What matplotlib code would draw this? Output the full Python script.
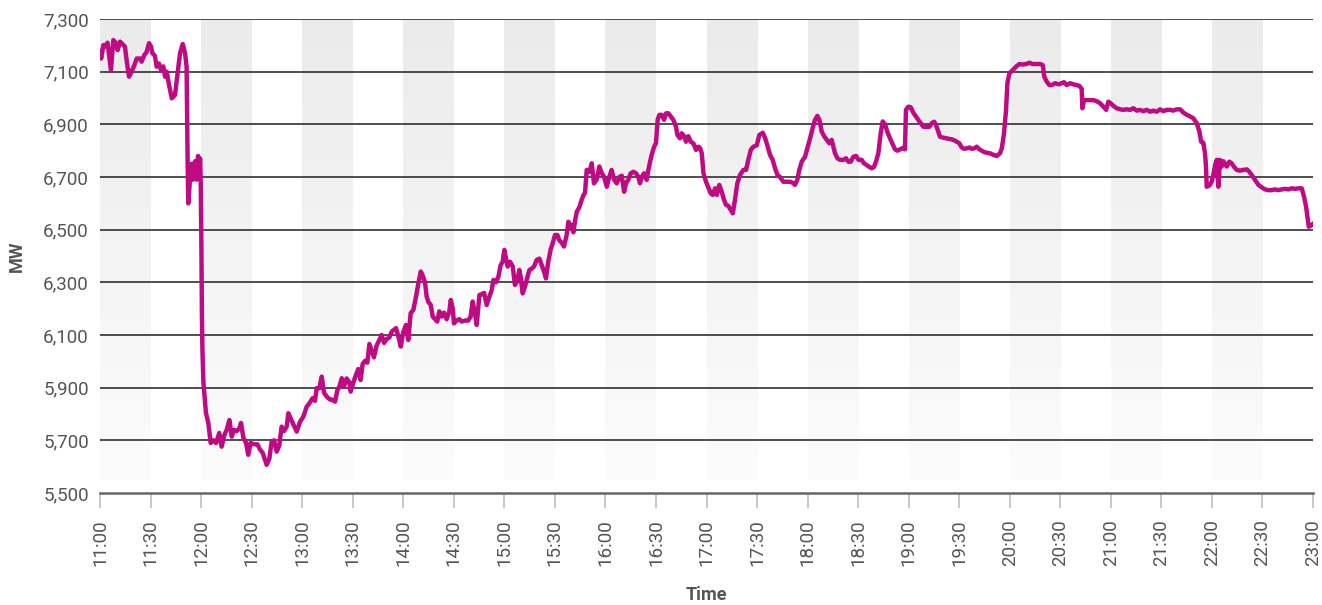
import numpy as np
import matplotlib
matplotlib.use("Agg")
import matplotlib.pyplot as plt
from matplotlib.colors import LinearSegmentedColormap

# minutes after 11:00 and load in MW
minutes = [0, 0.7, 2, 3, 4.5, 6.5, 7.9, 9.3, 10.5, 11.9, 13.3, 14.8, 15.8, 17.2, 18.8,
           20.4, 21.8, 23.7, 24.7, 26.3, 27.7, 29.1, 30.3, 31.1, 32.6, 33.6, 35, 36.2,
           37.6, 38.6, 39.6, 41, 42.6, 44.5, 46.1, 47.5, 49.1, 50.5, 51.4, 51.7, 52,
           52.4, 53.4, 54.4, 55.2, 56.4, 57.4, 58.2, 58.8, 59.4, 59.8, 60.2, 60.5, 60.8,
           61.4, 62.9, 64.3, 65.7, 67.3, 68.9, 70.8, 72.2, 73.8, 75.2, 76.8, 78.2, 79.5,
           81.1, 82.7, 83.7, 85.1, 86.7, 88, 89.4, 91.4, 93.4, 95, 96.6, 97.9, 98.9,
           100.5, 101.9, 103.3, 104.9, 106.4, 107.8, 109.2, 110.8, 111.8, 113.4, 114.8,
           116.8, 118.7, 120.7, 122.7, 124.2, 126.2, 127.6, 128.6, 130.2, 131.6, 133,
           134.6, 136.5, 137.5, 139.5, 140.9, 142.1, 143.5, 144.8, 146.4, 148, 148.8,
           150.4, 152, 153.3, 154.7, 155.9, 157.3, 158.7, 159.9, 161.3, 162.6, 164.2,
           165.8, 167.2, 168.6, 170.2, 171.7, 173.2, 174.5, 175.7, 177.1, 178.5, 180,
           181.6, 183, 184.4, 186, 187.6, 189, 190.4, 191.6, 192.9, 193.9, 194.9, 196.3,
           197.5, 198.9, 200.2, 201.4, 202.8, 204.2, 205.8, 207.4, 208.2, 209.4, 210.1,
           211.7, 213.3, 214.7, 216.7, 218.6, 220, 221.2, 222.6, 223.6, 225.2, 226.6,
           228, 229.5, 231.1, 232.5, 233.5, 235.1, 236.5, 237.8, 239, 240, 241, 242,
           243.4, 245, 246.3, 247.7, 248.9, 249.7, 250.9, 252.3, 253.7, 254.9, 256.3,
           257.6, 259.2, 260.8, 262.2, 263.6, 264.7, 266.1, 267.5, 268.7, 270.1, 271.5,
           272.6, 274.1, 275.4, 277, 278, 279.4, 281, 282, 283, 284.5, 285.9, 286.9,
           287.9, 288.9, 290.5, 291.9, 293.2, 294.8, 296.4, 297.8, 299.2, 300.8, 302.3,
           303.7, 305.1, 306.7, 308.3, 309.7, 311.1, 312.2, 313.6, 315, 316.6, 318.2,
           319.6, 320.5, 321.6, 322.9, 324.5, 325.5, 326.5, 327.5, 328.9, 330, 331, 332,
           333.4, 334.8, 336, 337.3, 338.8, 340.3, 341.9, 342.7, 344.3, 345.3, 346.7,
           347.8, 349.2, 350.6, 352.2, 353.8, 355.2, 356.2, 357.2, 358.2, 359.7, 361.1,
           362.5, 363.7, 365.1, 366.1, 367.6, 369, 370.4, 371.6, 373, 374.4, 375.6,
           376.9, 378.3, 379.9, 381.9, 383.5, 384.8, 386.3, 387.8, 389.8, 391.4, 393.4,
           394.7, 396.1, 397.7, 399.3, 400.7, 402.1, 403.6, 405.6, 407.6, 409.6, 411.2,
           412.5, 413.9, 415.1, 416.5, 418.5, 419.9, 421.5, 423, 424.4, 425.8, 427,
           428.4, 429.8, 431.4, 432.9, 434.3, 435.3, 436.3, 437.7, 439.3, 441.2, 442.8,
           444.2, 445.6, 447.2, 448.8, 450.2, 452.1, 453.5, 455.1, 456.7, 458.1, 459.4,
           460.6, 462, 463.4, 464.6, 466, 467.3, 468.9, 470.5, 471.9, 473.3, 474.9,
           476.5, 477.8, 478.4, 479.8, 481.2, 482.8, 484.4, 485.7, 487.2, 488.7, 490.3,
           492.3, 493.7, 495.1, 496.2, 497.6, 498.6, 500.2, 502.2, 504.1, 505.6, 506.9,
           508.5, 510.1, 511.5, 512.9, 514.5, 516.1, 517.5, 518.9, 520.4, 522, 523.4,
           524.7, 526.3, 528.3, 530.3, 532.3, 534.2, 535.3, 536.6, 537.8, 538.6, 539.8,
           541.8, 543.7, 545.7, 547.7, 549.7, 551.7, 553.6, 556, 558, 559.6, 560.5, 562,
           563.5, 564.9, 566.9, 568.9, 570.8, 572.2, 573.8, 575.8, 577.8, 579.7, 581.3,
           582.7, 583.1, 584.1, 585.7, 587.7, 589.6, 591.6, 593.6, 595.6, 597.2, 598.5,
           599.9, 601.5, 603.5, 605.5, 607.4, 609.4, 611.4, 613.4, 615.4, 617.3, 619.3,
           621.3, 623.3, 625.2, 627.2, 629.2, 631.2, 633.2, 635.1, 637.1, 639.1, 641.1,
           643, 645.1, 647.1, 649, 651, 652.6, 653.6, 654.9, 655.9, 656.5, 656.9, 658.5,
           659.9, 660.9, 661.9, 662.9, 663.8, 664.8, 665.8, 666.8, 667.8, 668.8, 670.3,
           671.7, 673.1, 674.7, 676.7, 678.7, 680.7, 682.2, 683.6, 685.6, 687.6, 689.5,
           691.5, 693.5, 695.5, 697.5, 699.4, 701.4, 703.4, 705.4, 707.4, 709.4, 711.3,
           713.3, 714.7, 715.9, 716.7, 717.5, 718.7, 720]

mw = [7175, 7150, 7201, 7195, 7210, 7106, 7220, 7210, 7182, 7214, 7205, 7195, 7144, 7081, 7100,
      7125, 7150, 7150, 7138, 7163, 7175, 7208, 7195, 7170, 7160, 7119, 7131, 7106,
      7120, 7081, 7100, 7049, 6999, 7011, 7094, 7170, 7205, 7170, 7119, 6950, 6760,
      6600, 6690, 6750, 6690, 6760, 6690, 6780, 6700, 6770, 6677, 6423, 6170, 6043,
      5918, 5804, 5766, 5690, 5700, 5690, 5728, 5676, 5720, 5740, 5777, 5714, 5740,
      5735, 5745, 5766, 5710, 5690, 5645, 5690, 5685, 5685, 5665, 5652, 5626, 5607,
      5630, 5695, 5700, 5657, 5680, 5752, 5735, 5752, 5803, 5780, 5760,
      5733, 5770, 5790, 5828, 5840, 5860, 5850, 5898, 5898, 5942, 5880,
      5866, 5855, 5855, 5847, 5890, 5904, 5936, 5905, 5935, 5920, 5885,
      5920, 5950, 5971, 5929, 5990, 6002, 5995, 6066, 6040, 6015, 6060,
      6081, 6100, 6070, 6085, 6090, 6113, 6120, 6126, 6095, 6056, 6110,
      6138, 6081, 6183, 6195, 6246, 6297, 6341, 6325, 6300, 6246, 6225, 6215,
      6170, 6160, 6151, 6190, 6170, 6185, 6160, 6190, 6233, 6200, 6144,
      6155, 6160, 6151, 6155, 6155, 6170, 6227, 6180, 6138, 6252, 6255,
      6260, 6214, 6245, 6270, 6309, 6300, 6322, 6365, 6378, 6423, 6390, 6360,
      6378, 6360, 6290, 6305, 6347, 6320, 6258, 6285, 6320, 6347, 6352,
      6360, 6385, 6390, 6365, 6340, 6315, 6380, 6425, 6448, 6480, 6480,
      6460, 6450, 6436, 6480, 6530, 6518, 6490, 6535, 6568, 6585, 6613, 6630,
      6640, 6727, 6720, 6752, 6676, 6690, 6740, 6715, 6700, 6663, 6700,
      6727, 6690, 6676, 6700, 6705, 6644, 6676, 6690, 6714, 6720, 6714,
      6700, 6676, 6700, 6714, 6689, 6727, 6758, 6785, 6815, 6828, 6917, 6936,
      6936, 6917, 6942, 6942, 6930, 6917, 6891, 6860, 6847, 6866, 6855,
      6834, 6855, 6834, 6828, 6803, 6815, 6810, 6790, 6714, 6682, 6660,
      6638, 6632, 6657, 6632, 6670, 6645, 6613, 6594, 6590, 6575, 6562,
      6613, 6676, 6708, 6727, 6727, 6765, 6803, 6815, 6820, 6860, 6868,
      6850, 6821, 6784, 6765, 6733, 6708, 6700, 6682, 6682, 6682, 6678,
      6670, 6689, 6727, 6758, 6777, 6809, 6847, 6885, 6917, 6932, 6917,
      6872, 6855, 6841, 6828, 6841, 6815, 6790, 6771, 6765, 6765, 6771,
      6758, 6758, 6777, 6780, 6765, 6765, 6752, 6745, 6738, 6733, 6738,
      6758, 6790, 6866, 6911, 6900, 6872, 6847, 6825, 6805, 6800, 6805,
      6810, 6805, 6955, 6967, 6965, 6944, 6929, 6917, 6904, 6891, 6890,
      6891, 6904, 6910, 6898, 6872, 6853, 6850, 6847, 6845, 6843, 6840,
      6834, 6828, 6812, 6807, 6809, 6812, 6807, 6809, 6815, 6805, 6800,
      6795, 6792, 6790, 6784, 6780, 6790, 6809, 6866, 6955, 7056, 7094,
      7106, 7119, 7129, 7127, 7129, 7134, 7129, 7129, 7129, 7125, 7081, 7062,
      7049, 7049, 7056, 7052, 7056, 7060, 7049, 7056, 7052, 7049, 7046,
      7035, 6961, 6992, 6992, 6992, 6992, 6988, 6980, 6967, 6955, 6986,
      6980, 6970, 6961, 6957, 6955, 6957, 6955, 6961, 6952, 6955, 6950,
      6955, 6948, 6952, 6948, 6957, 6950, 6955, 6955, 6952, 6957, 6957,
      6945, 6936, 6930, 6923, 6904, 6872, 6834, 6830, 6790, 6739, 6663, 6668,
      6682, 6710, 6746, 6765, 6663, 6765, 6740, 6760, 6748, 6740, 6758,
      6752, 6739, 6727, 6724, 6727, 6729, 6720, 6708, 6689, 6670, 6661,
      6653, 6650, 6650, 6653, 6650, 6653, 6655, 6653, 6657, 6655, 6657,
      6657, 6625, 6587, 6550, 6511, 6515, 6522]

tick_labels = ["11:00", "11:30", "12:00", "12:30", "13:00", "13:30", "14:00", "14:30",
               "15:00", "15:30", "16:00", "16:30", "17:00", "17:30", "18:00", "18:30",
               "19:00", "19:30", "20:00", "20:30", "21:00", "21:30", "22:00", "22:30",
               "23:00"]
y_ticks = [5500, 5700, 5900, 6100, 6300, 6500, 6700, 6900, 7100, 7300]

plt.rcParams['font.family'] = ['Roboto', 'DejaVu Sans']

fig = plt.figure(figsize=(13.22, 6.05), dpi=100)
ax = fig.add_axes([100 / 1322, 1 - 493 / 605, 1213 / 1322, 474 / 605])

# alternating half-hour bands, grey at the top fading to white
band_cmap = LinearSegmentedColormap.from_list('band', ['#fcfcfc', '#ebebeb'])
grad = np.linspace(0, 1, 256).reshape(-1, 1)
tick_pos = np.arange(len(tick_labels)) * 30
for i in range(0, len(tick_pos) - 1, 2):
    ax.imshow(grad, extent=[tick_pos[i], tick_pos[i + 1], 5550, 7300], origin='lower',
              cmap=band_cmap, aspect='auto', zorder=0, interpolation='bilinear')

for v in y_ticks[1:]:
    ax.axhline(v, color='#1e1e1e', lw=1.1, zorder=1)

ax.plot(minutes, mw, color='#bf0a83', lw=3.2, zorder=3, solid_joinstyle='round')

ax.set_xlim(0, 720)
ax.set_ylim(5500, 7300)
ax.set_xticks(tick_pos)
ax.set_xticklabels(tick_labels, rotation=90)
ax.set_yticks(y_ticks)
ax.set_yticklabels([f"{v:,}" for v in y_ticks])

for s in ['top', 'right', 'left']:
    ax.spines[s].set_visible(False)
ax.spines['bottom'].set_color('#666666')
ax.spines['bottom'].set_linewidth(1.8)

ax.tick_params(axis='x', length=11, width=1.3, color='#c4c4c4', pad=8,
               labelsize=13.5, labelcolor='#555555')
ax.tick_params(axis='y', length=0, pad=8, labelsize=13.5, labelcolor='#555555')

ax.set_xlabel('Time', fontsize=13, fontweight='bold', color='#555555', labelpad=14)
ax.set_ylabel('MW', fontsize=13, fontweight='bold', color='#555555', labelpad=12)

fig.savefig('out.png', dpi=100)
